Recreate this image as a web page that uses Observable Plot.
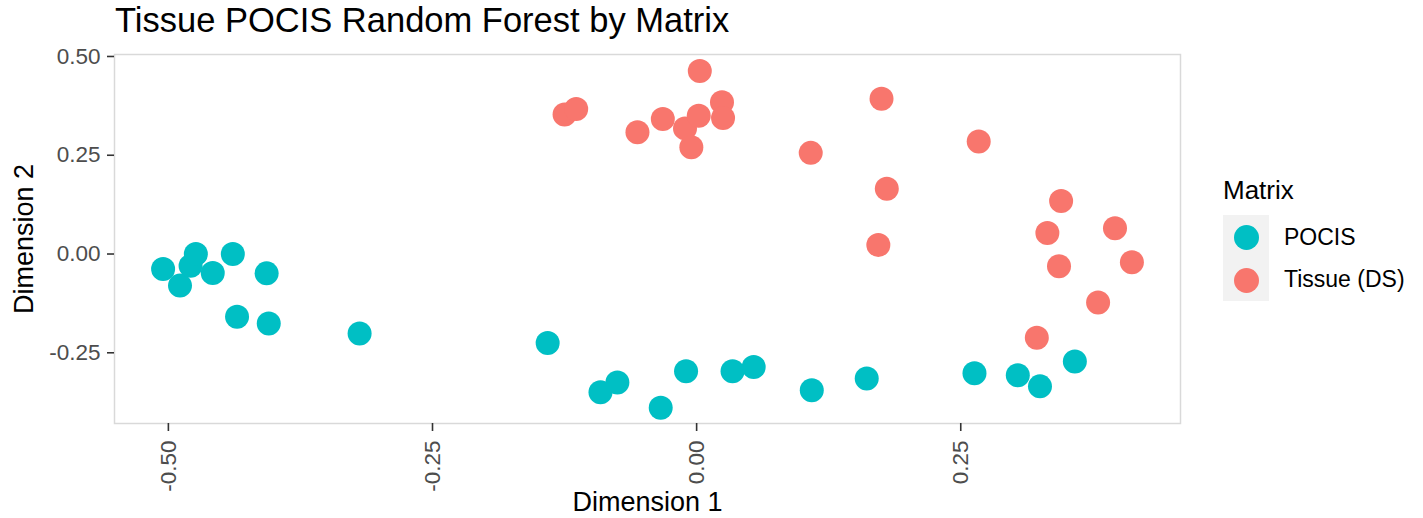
<!DOCTYPE html>
<html><head><meta charset="utf-8">
<script src="https://cdn.jsdelivr.net/npm/d3@7"></script>
<script src="https://cdn.jsdelivr.net/npm/@observablehq/plot@0.6"></script>
<style>
body{margin:0;background:#fff;font-family:"Liberation Sans",Arial,sans-serif;}
#wrap{position:relative;width:1423px;height:518px;overflow:hidden;}
#title{height:45px;position:relative;}
#title span{position:absolute;left:115px;top:3px;font-size:34.5px;line-height:34px;color:#000;white-space:nowrap;}
#plot{position:relative;height:473px;}
.leg{position:absolute;white-space:nowrap;color:#000;}
#legTitle{left:1223px;top:177px;font-size:26px;line-height:26px;}
#legBox{left:1223px;top:215px;width:46px;height:86px;background:#f2f2f2;}
.sw{position:absolute;width:25px;height:25px;border-radius:50%;}
.lab{font-size:23px;line-height:23px;left:1284px;}
g[aria-label="x-axis label"] text, g[aria-label="y-axis label"] text{fill:#000;font-size:27px;}
</style>
</head><body>
<div id="wrap">
  <div id="title"><span>Tissue POCIS Random Forest by Matrix</span></div>
  <div id="plot"></div>
  <div id="legend"></div>
</div>
<script>
const groups = ["POCIS", "Tissue (DS)"];
const colors = ["#00BFC4", "#F8766D"];
const xTicks = [-0.50, -0.25, 0.00, 0.25];
const yTicks = [-0.25, 0.00, 0.25, 0.50];

const pocisX = [-0.505, -0.489, -0.479, -0.474, -0.458, -0.439, -0.407, -0.435, -0.405, -0.319,
  -0.141, -0.091, -0.075, -0.034, -0.010, 0.034, 0.054, 0.109, 0.161, 0.263, 0.304, 0.325, 0.358];
const pocisY = [-0.038, -0.080, -0.030, 0.000, -0.048, 0.000, -0.049, -0.159, -0.176, -0.201,
  -0.225, -0.350, -0.325, -0.389, -0.297, -0.297, -0.286, -0.345, -0.315, -0.302, -0.307, -0.335, -0.272];

const tissueX = [-0.125, -0.114, -0.056, -0.032, -0.011, 0.003, 0.002, 0.024, 0.025, -0.005,
  0.108, 0.175, 0.267, 0.180, 0.172, 0.345, 0.332, 0.396, 0.343, 0.412, 0.380, 0.322];
const tissueY = [0.353, 0.367, 0.308, 0.342, 0.318, 0.463, 0.350, 0.384, 0.344, 0.270,
  0.256, 0.393, 0.285, 0.165, 0.023, 0.134, 0.053, 0.065, -0.031, -0.021, -0.123, -0.212];

const data = [
  ...pocisX.map((x, i) => ({x, y: pocisY[i], group: groups[0]})),
  ...tissueX.map((x, i) => ({x, y: tissueY[i], group: groups[1]}))
];

const chart = Plot.plot({
  width: 1423, height: 473,
  marginTop: 9, marginBottom: 95, marginLeft: 114, marginRight: 243,
  style: {fontFamily: "Liberation Sans, Arial, sans-serif", fontSize: "22.5px", color: "#4d4d4d", background: "white", overflow: "visible"},
  x: {domain: [-0.551, 0.458]},
  y: {domain: [-0.429, 0.505]},
  color: {domain: groups, range: colors},
  marks: [
    Plot.frame({stroke: "#d9d9d9", strokeWidth: 1.5}),
    Plot.axisX({ticks: xTicks, tickFormat: d => d.toFixed(2), tickSize: 8, tickPadding: 9, tickRotate: -90,
      label: "Dimension 1", labelAnchor: "center", labelOffset: 87, labelArrow: "none", stroke: "#333", strokeWidth: 1.6}),
    Plot.axisY({ticks: yTicks, tickFormat: d => d.toFixed(2), tickSize: 7, tickPadding: 7,
      label: "Dimension 2", labelAnchor: "center", labelOffset: 101, labelArrow: "none", stroke: "#333", strokeWidth: 1.6}),
    Plot.dot(data, {x: "x", y: "y", fill: "group", r: 12})
  ]
});
document.getElementById("plot").appendChild(chart);

// legend
const wrap = document.getElementById("wrap");
function el(cls, id, css, text) {
  const d = document.createElement("div");
  d.className = cls; if (id) d.id = id;
  Object.assign(d.style, css || {});
  if (text) d.textContent = text;
  wrap.appendChild(d); return d;
}
el("leg", "legTitle", {}, "Matrix");
el("leg", "legBox", {});
groups.forEach((g, i) => {
  el("sw", null, {left: "1234px", top: (225 + i * 43) + "px", background: colors[i]});
  el("leg lab", null, {top: (226 + i * 42) + "px"}, g);
});
</script>
</body></html>
